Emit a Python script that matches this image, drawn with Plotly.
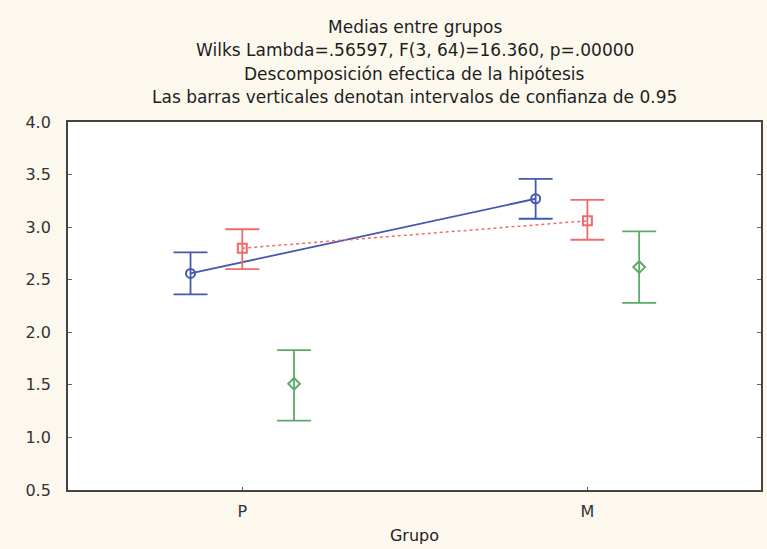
import plotly.graph_objects as go

groups = ["P", "M"]
series_names = ["Serie 1", "Serie 2", "Serie 3"]
means_blue = [2.56, 3.27]
upper_blue = [2.76, 3.46]
lower_blue = [2.36, 3.08]
means_red = [2.80, 3.06]
upper_red = [2.98, 3.26]
lower_red = [2.60, 2.88]
means_green = [1.51, 2.62]
upper_green = [1.83, 2.96]
lower_green = [1.16, 2.28]
y_ticks = [0.5, 1.0, 1.5, 2.0, 2.5, 3.0, 3.5, 4.0]

title_lines = [
    "Medias entre grupos",
    "Wilks Lambda=.56597, F(3, 64)=16.360, p=.00000",
    "Descomposición efectica de la hipótesis",
    "Las barras verticales denotan intervalos de confianza de 0.95",
]

series = [
    (means_blue, upper_blue, lower_blue, "#4459b0", "circle-open", dict(color="#4459b0", width=1.8, dash="solid"), "lines+markers", -0.15, 9),
    (means_red, upper_red, lower_red, "#ef6b6b", "square-open", dict(color="#ef6b6b", width=1.5, dash="dot"), "lines+markers", 0.0, 9),
    (means_green, upper_green, lower_green, "#5daa67", "diamond-open", dict(color="#5daa67", width=1.5), "markers", 0.15, 9),
]

fig = go.Figure()
base_x = list(range(len(groups)))
for name, (m, up, lo, col, sym, line, mode, off, ms) in zip(series_names, series):
    xs = [b + off for b in base_x]
    fig.add_trace(go.Scatter(
        x=xs, y=m, mode=mode, name=name, line=line,
        marker=dict(symbol=sym, size=ms, color=col, line=dict(width=2, color=col)),
        error_y=dict(type="data", symmetric=False,
                     array=[u - v for u, v in zip(up, m)],
                     arrayminus=[v - l for v, l in zip(m, lo)],
                     color=col, thickness=1.8, width=17),
        showlegend=False,
    ))

font_family = "DejaVu Sans, Liberation Sans, Arial, sans-serif"
title_y = [27, 50, 74, 97]
for txt, yp in zip(title_lines, title_y):
    fig.add_annotation(text=txt, xref="paper", yref="paper", x=0.5,
                       y=1 + (122 - yp) / 368.0, yanchor="middle", xanchor="center",
                       showarrow=False, font=dict(family=font_family, size=17, color="#1e1e1e"))

fig.update_layout(
    width=767, height=549,
    margin=dict(l=68, r=4, t=122, b=59),
    paper_bgcolor="#fcf8ee",
    plot_bgcolor="#ffffff",
    font=dict(family=font_family, size=16, color="#333333"),
    xaxis=dict(range=[-0.505, 1.503], tickvals=base_x, ticktext=groups,
               ticks="inside", ticklen=3, tickcolor="#555555",
               showline=True, linecolor="#444444", linewidth=1.8, mirror=True,
               showgrid=False, zeroline=False, ticklabelstandoff=6,
               title=dict(text="Grupo", font=dict(size=16, color="#222222"), standoff=10),
               tickfont=dict(size=16, color="#333333")),
    yaxis=dict(range=[0.5, 4.0], tickvals=y_ticks, tickformat=".1f",
               ticks="inside", ticklen=4, tickcolor="#666666",
               showline=True, linecolor="#444444", linewidth=1.8, mirror="ticks",
               showgrid=False, zeroline=False, ticklabelstandoff=12,
               tickfont=dict(size=16, color="#333333")),
)

fig.write_html("out.html")
